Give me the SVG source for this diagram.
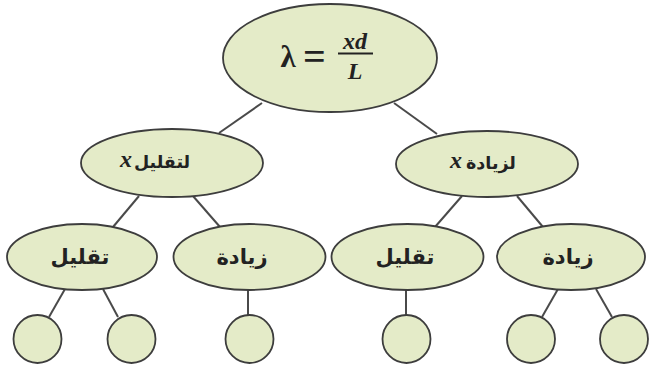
<svg xmlns="http://www.w3.org/2000/svg" width="649" height="371" viewBox="0 0 649 371">
<style>
.n{fill:#e4ebc8;stroke:#3d3d3d;stroke-width:1.8}
.c line{stroke:#4a4a4a;stroke-width:2}
.ar{font-family:"DejaVu Sans","Noto Sans",sans-serif;font-weight:bold;fill:#222;text-anchor:middle}
.a2{font-size:17.5px}
.a3{font-size:21px}
.m{font-family:"Liberation Serif","Times New Roman",serif;fill:#222;font-weight:bold}
.vx{font-style:italic;font-size:24px;text-anchor:middle}
</style>
<rect width="649" height="371" fill="#fff"/>
<g class="c" id="connectors">
<line x1="262" y1="103" x2="219" y2="133"/>
<line x1="394" y1="103" x2="437" y2="134"/>
<line x1="139" y1="196" x2="113" y2="227"/>
<line x1="193" y1="196" x2="220" y2="227"/>
<line x1="462" y1="196" x2="435" y2="227"/>
<line x1="517" y1="196" x2="543" y2="227"/>
<line x1="65" y1="289" x2="49" y2="317"/>
<line x1="103" y1="289" x2="118" y2="317"/>
<line x1="248" y1="289" x2="248" y2="315"/>
<line x1="406" y1="289" x2="406" y2="315"/>
<line x1="558" y1="289" x2="542" y2="317"/>
<line x1="596" y1="289" x2="612" y2="317"/>
</g>
<g id="root">
<ellipse class="n" cx="330" cy="58" rx="107" ry="54"/>
<text class="m" x="288" y="67" font-size="31" text-anchor="middle">λ</text>
<text class="m" x="314.5" y="70" font-size="40" text-anchor="middle">=</text>
<text class="m vx" x="355" y="49">xd</text>
<line x1="338" y1="53.5" x2="373" y2="53.5" stroke="#222" stroke-width="2"/>
<text class="m vx" x="355" y="79">L</text>
</g>
<g id="left">
<ellipse class="n" cx="172" cy="163" rx="91" ry="34"/>
<text class="ar a2" x="162" y="168">لتقليل</text>
<text class="m vx" x="126" y="167">x</text>
</g>
<g id="right">
<ellipse class="n" cx="487" cy="164" rx="91" ry="33"/>
<text class="ar a2" x="491" y="169">لزيادة</text>
<text class="m vx" x="456" y="168">x</text>
</g>
<g id="ll">
<ellipse class="n" cx="82" cy="257" rx="75" ry="33"/>
<text class="ar a3" x="80" y="264">تقليل</text>
</g>
<g id="lr">
<ellipse class="n" cx="249.5" cy="257" rx="76" ry="33"/>
<text class="ar a3" x="242" y="264">زيادة</text>
</g>
<g id="rl">
<ellipse class="n" cx="407.5" cy="257" rx="76" ry="33"/>
<text class="ar a3" x="405" y="264">تقليل</text>
</g>
<g id="rr">
<ellipse class="n" cx="571" cy="257" rx="74" ry="33"/>
<text class="ar a3" x="568" y="264">زيادة</text>
</g>
<g id="c1"><ellipse class="n" cx="37.5" cy="339" rx="24" ry="24"/></g>
<g id="c2"><ellipse class="n" cx="131.5" cy="339" rx="24" ry="24"/></g>
<g id="c3"><ellipse class="n" cx="249.5" cy="339" rx="24" ry="24"/></g>
<g id="c4"><ellipse class="n" cx="406.5" cy="339" rx="24" ry="24"/></g>
<g id="c5"><ellipse class="n" cx="531" cy="339" rx="24" ry="24"/></g>
<g id="c6"><ellipse class="n" cx="624" cy="339" rx="24" ry="24"/></g>
</svg>
